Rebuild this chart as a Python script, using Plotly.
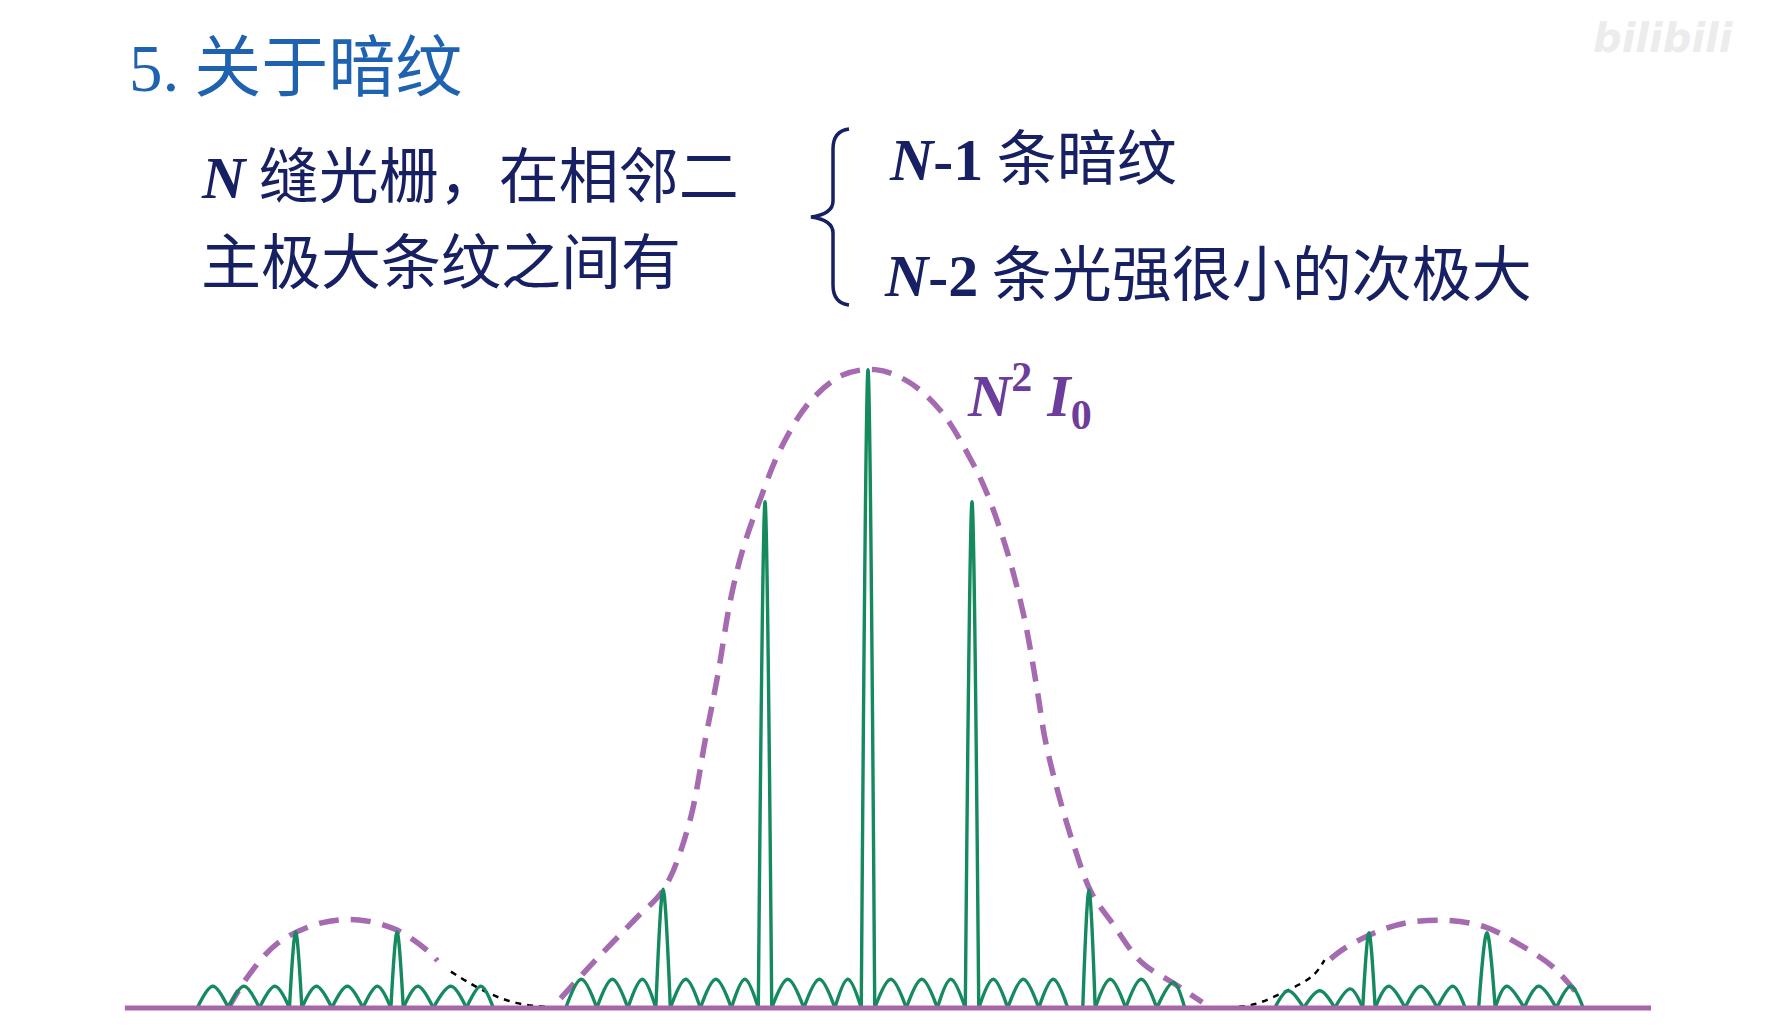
import plotly.graph_objects as go

# Settings
W, H = 1779, 1027
ML, MR, MT, MB = 94, 106, 293, 17
title_color = "#1f63b0"
text_color = "#172063"
green = "#148a5e"
purple = "#a56aaf"
label_purple = "#6c3d9c"

# x in units of the spacing between principal maxima, y relative to central maximum
# green curve: every arch is (left foot, top, right foot, height)
arch_left = [
    -6.48, -6.18, -5.88, -5.59, -5.47, -5.18, -4.88, -4.61, -4.49, -4.20, -3.88,
    -2.92, -2.62, -2.32, -2.05, -1.91, -1.62, -1.32, -1.06, -0.93, -0.62, -0.32, -0.065,
    0.065, 0.37, 0.67, 0.94, 1.07, 1.35, 1.65, 2.075, 2.195, 2.49, 2.79,
    3.93, 4.21, 4.51, 4.78, 4.90, 5.19, 5.50, 5.90, 6.06, 6.34, 6.65,
]
arch_top = [
    -6.33, -6.03, -5.73, -5.53, -5.33, -5.03, -4.74, -4.55, -4.35, -4.03, -3.74,
    -2.77, -2.47, -2.18, -1.98, -1.76, -1.47, -1.19, -0.995, -0.775, -0.47, -0.195, 0.0,
    0.22, 0.52, 0.80, 1.005, 1.21, 1.50, 1.79, 2.135, 2.34, 2.64, 2.95,
    4.06, 4.365, 4.66, 4.84, 5.03, 5.34, 5.65, 5.98, 6.17, 6.48, 6.79,
]
arch_right = [
    -6.18, -5.88, -5.59, -5.47, -5.18, -4.88, -4.61, -4.49, -4.20, -3.88, -3.62,
    -2.62, -2.32, -2.05, -1.91, -1.62, -1.32, -1.06, -0.93, -0.62, -0.32, -0.065, 0.065,
    0.37, 0.67, 0.94, 1.07, 1.35, 1.65, 1.93, 2.195, 2.49, 2.79, 3.06,
    4.21, 4.51, 4.78, 4.90, 5.19, 5.50, 5.77, 6.06, 6.34, 6.65, 6.91,
]
arch_height = [
    0.034, 0.034, 0.034, 0.119, 0.034, 0.034, 0.034, 0.119, 0.034, 0.034, 0.034,
    0.045, 0.045, 0.045, 0.186, 0.045, 0.045, 0.045, 0.793, 0.045, 0.045, 0.045, 1.0,
    0.045, 0.045, 0.045, 0.793, 0.045, 0.045, 0.045, 0.185, 0.045, 0.045, 0.040,
    0.027, 0.027, 0.030, 0.118, 0.034, 0.034, 0.034, 0.118, 0.034, 0.034, 0.034,
]

# dashed envelopes
env_mid_x = [-2.97, -2.65, -2.25, -1.97, -1.73, -1.57, -1.45, -1.33, -1.21, -1.05, -0.85,
             -0.57, -0.25, 0.07, 0.39, 0.71, 0.99, 1.15, 1.35, 1.51, 1.63, 1.71, 1.83,
             1.99, 2.16, 2.36, 2.64, 2.96, 3.23]
env_mid_y = [0.015, 0.072, 0.139, 0.187, 0.288, 0.422, 0.523, 0.638, 0.718, 0.793, 0.874,
             0.948, 0.991, 1.0, 0.981, 0.934, 0.86, 0.806, 0.712, 0.611, 0.503, 0.422, 0.341,
             0.254, 0.18, 0.133, 0.072, 0.038, 0.009]
env_left_x = [-6.18, -5.98, -5.70, -5.29, -4.92, -4.55, -4.25, -4.16]
env_left_y = [0.0, 0.052, 0.102, 0.133, 0.138, 0.122, 0.089, 0.074]
env_right_x = [4.47, 4.60, 4.91, 5.22, 5.61, 5.96, 6.31, 6.62, 6.89]
env_right_y = [0.077, 0.093, 0.119, 0.134, 0.137, 0.127, 0.098, 0.064, 0.015]

# black dotted joins near the envelope minima
dot_left_x = [-4.03, -3.70, -3.40, -3.05]
dot_left_y = [0.057, 0.026, 0.008, 0.001]
dot_right_x = [3.35, 3.71, 4.02, 4.30, 4.41]
dot_right_y = [0.0, 0.005, 0.025, 0.051, 0.075]

# screen axis
axis_x = [-7.18, 7.565]
axis_y = [0, 0]

x_range = [-7.401, 7.855]
y_range = [-0.01566, 1.1075]


def px(x):
    return (x - ML) / (W - ML - MR)


def py(y):
    return (H - MB - y) / (H - MT - MB)


def serif(s):
    return f"<span style='font-family:Liberation Serif'>{s}</span>"


fig = go.Figure()

gx, gy = [], []
for a, c, b, h in zip(arch_left, arch_top, arch_right, arch_height):
    gx += [a, c, b, None]
    gy += [0, h, 0, None]

env_line = dict(color=purple, width=5.5, dash="20px,12px")
for ex, ey in [(env_mid_x, env_mid_y), (env_left_x, env_left_y), (env_right_x, env_right_y)]:
    fig.add_trace(go.Scatter(x=ex, y=ey, mode="lines", line_shape="spline", line=env_line))

for dx, dy in [(dot_left_x, dot_left_y), (dot_right_x, dot_right_y)]:
    fig.add_trace(go.Scatter(x=dx, y=dy, mode="lines", line_shape="spline",
                             line=dict(color="black", width=2.5, dash="6px,6px")))

fig.add_trace(go.Scatter(x=gx, y=gy, mode="lines", line_shape="spline",
                         line=dict(color=green, width=3.4), connectgaps=False))

fig.add_trace(go.Scatter(x=axis_x, y=axis_y, mode="lines",
                         line=dict(color="#a866a9", width=5)))

cjk = "Noto Sans CJK SC"
notes = [
    (119, 53, serif("5.") + " 关于暗纹", 67, title_color),
    (191, 164, serif("<b><i>N</i></b>") + " 缝光栅，在相邻二", 60, text_color),
    (191, 250, "主极大条纹之间有", 60, text_color),
    (879, 146, serif("<b><i>N</i>-1</b>") + " 条暗纹", 60, text_color),
    (874, 262, serif("<b><i>N</i>-2</b>") + " 条光强很小的次极大", 60, text_color),
]
for x, y, t, s, c in notes:
    fig.add_annotation(x=px(x), y=py(y), xref="paper", yref="paper", text=t,
                       showarrow=False, xanchor="left", yanchor="middle",
                       font=dict(family=cjk, size=s, color=c))

fig.add_annotation(x=px(957), y=py(388), xref="paper", yref="paper",
                   text="<b><i>N</i><sup>2</sup> <i>I</i><sub>0</sub></b>",
                   showarrow=False, xanchor="left", yanchor="middle",
                   font=dict(family="Liberation Serif", size=60, color=label_purple))

fig.add_annotation(x=px(1655), y=py(30), xref="paper", yref="paper",
                   text="<b><i>bilibili</i></b>", showarrow=False,
                   xanchor="center", yanchor="middle",
                   font=dict(family="DejaVu Sans", size=40, color="#ececec"))

# brace
fig.add_shape(type="path", xref="paper", yref="paper",
              xsizemode="pixel", ysizemode="pixel",
              xanchor=px(825), yanchor=py(209),
              path="M 16 88 Q 0 86 0 68 L 0 16 Q 0 3 -22 0 Q 0 -3 0 -16 L 0 -68 Q 0 -86 16 -88",
              line=dict(color=text_color, width=3.5))

fig.update_layout(width=W, height=H, showlegend=False,
                  margin=dict(l=ML, r=MR, t=MT, b=MB),
                  plot_bgcolor="white", paper_bgcolor="white")
fig.update_xaxes(range=x_range, visible=False, showgrid=False, zeroline=False)
fig.update_yaxes(range=y_range, visible=False, showgrid=False, zeroline=False)

fig.write_html("out.html")
